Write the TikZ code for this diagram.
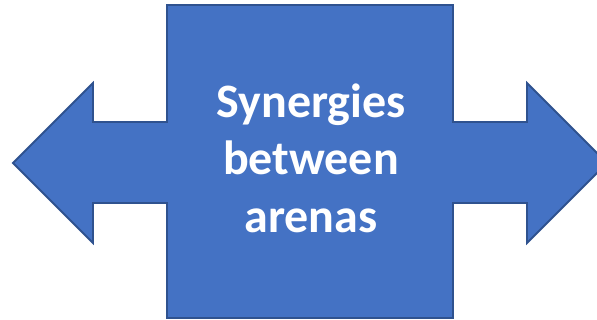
\documentclass[tikz,border=0pt]{standalone}
\usepackage{fontspec}
\setmainfont{Carlito}
\definecolor{arrowfill}{HTML}{4472C4}
\definecolor{arrowline}{HTML}{2F528F}

\begin{document}
\begin{tikzpicture}[x=1pt,y=-1pt,
    arrowbody/.style={fill=arrowfill,draw=arrowline,line width=1.8pt,line join=miter},
    boxtext/.style={text=white,font=\bfseries\fontsize{48}{57.5}\selectfont,align=center}]
    \useasboundingbox (0,0) rectangle (597,320);
    \clip (0,0) rectangle (597,320);
    % double arrow around the box
    \path[arrowbody] (167,5) -- (453,5) -- (453,122) -- (527,122) -- (527,83)
        -- (607,163) -- (527,243) -- (527,203) -- (453,203) -- (453,318)
        -- (167,318) -- (167,203) -- (93,203) -- (93,243) -- (13,163)
        -- (93,83) -- (93,122) -- (167,122) -- cycle;
    \node[boxtext] (text) at (311,158) {Synergies\\between\\arenas};
\end{tikzpicture}
\end{document}
